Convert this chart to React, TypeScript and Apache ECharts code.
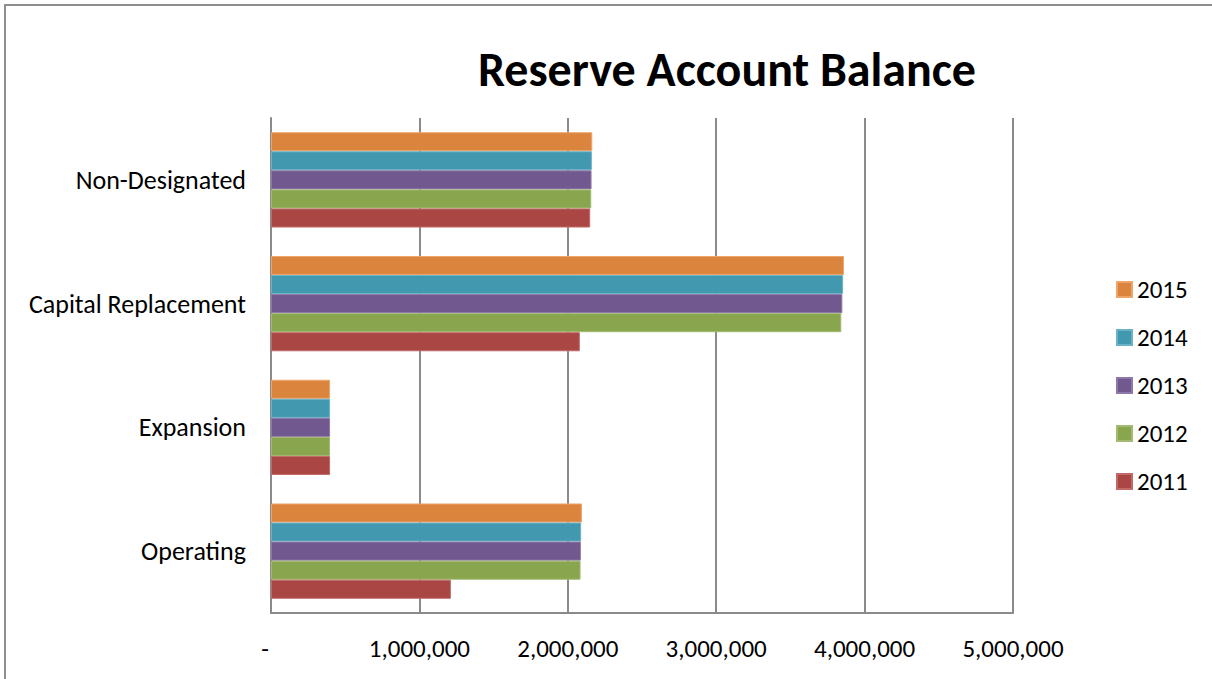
import React, { useEffect, useRef } from "react";
import * as echarts from "echarts";

const categories = ["Operating", "Expansion", "Capital Replacement", "Non-Designated"];
const years = ["2015", "2014", "2013", "2012", "2011"];
const values2015 = [2095000, 398000, 3861000, 2165000];
const values2014 = [2090000, 398000, 3855000, 2162000];
const values2013 = [2088000, 398000, 3850000, 2160000];
const values2012 = [2086000, 398000, 3843000, 2158000];
const values2011 = [1212000, 398000, 2081000, 2151000];
const seriesValues = [values2015, values2014, values2013, values2012, values2011];
const colors = ["#DB843D", "#4298AF", "#71588F", "#89A54E", "#AA4644"];
const borderColors = ["#EDA56A", "#6CB2C6", "#8E78A8", "#A3BA72", "#C26A68"];
const titleText = "Reserve Account Balance";

const FONT = "Carlito, Lato, 'Open Sans', sans-serif";

export default function App() {
  const ref = useRef<HTMLDivElement>(null);
  useEffect(() => {
    if (!ref.current) return;
    const chart = echarts.init(ref.current, undefined, { renderer: "svg" });
    chart.setOption({
      animation: false,
      backgroundColor: "#ffffff",
      graphic: [
        {
          type: "rect",
          shape: { x: 5, y: 5, width: 1240, height: 720 },
          style: { fill: "none", stroke: "#8f8f8f", lineWidth: 2 },
          silent: true,
        },
        {
          type: "text",
          x: 727,
          y: 69,
          style: {
            text: titleText,
            align: "center",
            verticalAlign: "middle",
            fontSize: 48,
            fontWeight: "bold",
            fontFamily: FONT,
            fill: "#000000",
          },
        },
      ],
      legend: {
        data: years,
        orient: "vertical",
        left: 1111,
        top: 272,
        itemWidth: 15,
        itemHeight: 15,
        itemGap: 23,
        icon: "rect",
        textStyle: { fontSize: 25, fontFamily: FONT, color: "#000000" },
      },
      grid: { left: 271, right: 199, top: 118, bottom: 66, containLabel: false },
      xAxis: {
        type: "value",
        min: 0,
        max: 5000000,
        interval: 1000000,
        axisLine: { show: true, lineStyle: { color: "#8a8a8a", width: 2 } },
        axisTick: { show: false },
        splitLine: { show: true, lineStyle: { color: "#8a8a8a", width: 2 } },
        axisLabel: {
          margin: 23,
          fontSize: 25,
          fontFamily: FONT,
          color: "#000000",
          formatter: (v: number) => (v === 0 ? "{dash|-}" : v.toLocaleString("en-US")),
          rich: { dash: { fontSize: 25, fontFamily: FONT, color: "#000000", padding: [0, 12, 0, 0] } },
        },
      },
      yAxis: {
        type: "category",
        data: categories,
        axisLine: { show: true, lineStyle: { color: "#8a8a8a", width: 2 } },
        axisTick: { show: false },
        axisLabel: { margin: 25, fontSize: 26, fontFamily: FONT, color: "#000000" },
      },
      series: years.map((y, i) => ({
        name: y,
        type: "bar",
        data: seriesValues[i],
        barGap: "0%",
        barCategoryGap: "23%",
        itemStyle: { color: colors[i], borderColor: borderColors[i], borderWidth: 1 },
      })),
    });
    return () => chart.dispose();
  }, []);
  return (
    <div
      ref={ref}
      style={{ position: "absolute", left: 0, top: 0, width: 1212, height: 679 }}
    />
  );
}
